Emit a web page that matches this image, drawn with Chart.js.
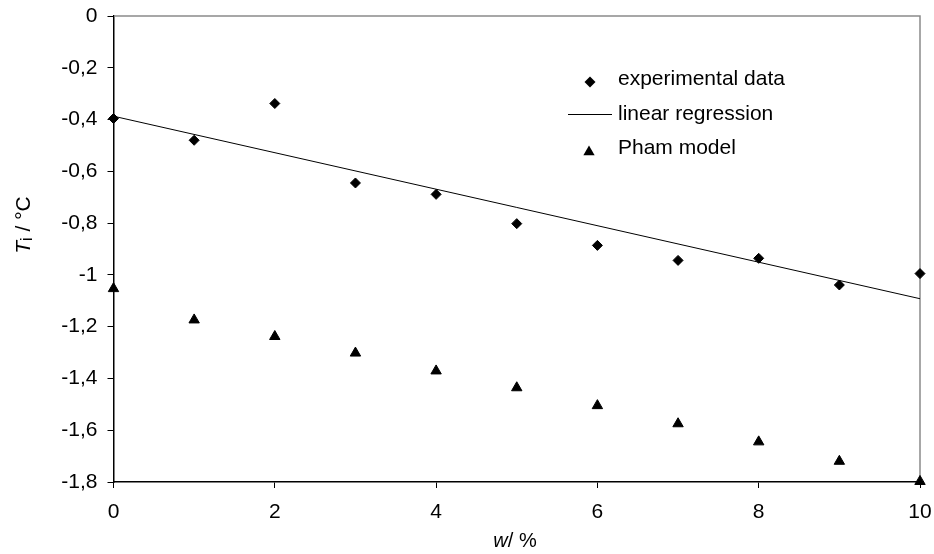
<!DOCTYPE html>
<html>
<head>
<meta charset="utf-8">
<script src="https://cdn.jsdelivr.net/npm/chart.js@4.4.0/dist/chart.umd.min.js"></script>
<style>
    html, body { margin: 0; padding: 0; background: #fff; }
    #wrap { width: 934px; height: 554px; position: relative; }
</style>
</head>
<body>
<div id="wrap"><canvas id="grafica" width="934" height="554"></canvas></div>
<script>
// ================= DATOS =================
const wValues = [0, 1, 2, 3, 4, 5, 6, 7, 8, 9, 10];
const experimentalData = [-0.396, -0.48, -0.338, -0.645, -0.689, -0.802, -0.886, -0.944, -0.936, -1.039, -0.995];
const regressionW = [0, 10];
const regressionT = [-0.387, -1.092];
const phamModel = [-1.053, -1.174, -1.238, -1.302, -1.371, -1.436, -1.505, -1.575, -1.645, -1.72, -1.798];

const xTickLabels = ["0", "2", "4", "6", "8", "10"];
const yTickLabels = ["0", "-0,2", "-0,4", "-0,6", "-0,8", "-1", "-1,2", "-1,4", "-1,6", "-1,8"];
const legendLabels = ["experimental data", "linear regression", "Pham model"];

const FAMILIA = '"Liberation Sans", Arial, sans-serif';

// ================= FUNCIONES =================

// Dibuja texto en trozos (cursiva, subíndice...) centrado o alineado a la izquierda
function dibujarTrozos(ctx, trozos, x, y, align) {
    let total = 0;
    trozos.forEach(t => { ctx.font = t.font; t.w = ctx.measureText(t.text).width; total += t.w; });
    let cx = align === 'center' ? x - total / 2 : x;
    trozos.forEach(t => {
        ctx.font = t.font;
        ctx.fillText(t.text, cx, y + (t.dy || 0));
        cx += t.w;
    });
}

function rombo(ctx, x, y, r) {
    ctx.beginPath();
    ctx.moveTo(x - r, y); ctx.lineTo(x, y - r); ctx.lineTo(x + r, y); ctx.lineTo(x, y + r);
    ctx.closePath(); ctx.fill();
}

function triangulo(ctx, x, y, r) {
    ctx.beginPath();
    ctx.moveTo(x, y - r);
    ctx.lineTo(x + r * 0.866, y + r / 2);
    ctx.lineTo(x - r * 0.866, y + r / 2);
    ctx.closePath(); ctx.fill();
}

// Marco gris, títulos de ejes y leyenda
const extrasPlugin = {
    id: 'extras',
    beforeDatasetsDraw(chart) {
        const { ctx, chartArea: a } = chart;
        ctx.save();
        ctx.strokeStyle = '#8a8a8a';
        ctx.lineWidth = 1.5;
        ctx.beginPath();
        ctx.moveTo(a.left + 1, a.top);
        ctx.lineTo(a.right, a.top);
        ctx.lineTo(a.right, a.bottom - 1);
        ctx.stroke();
        ctx.restore();
    },
    afterDraw(chart) {
        const { ctx } = chart;
        ctx.save();
        ctx.fillStyle = '#000';
        ctx.textBaseline = 'alphabetic';

        // título eje x
        dibujarTrozos(ctx, [
            { text: 'w', font: 'italic 20px ' + FAMILIA },
            { text: '/ %', font: '20px ' + FAMILIA }
        ], 515, 547, 'center');

        // título eje y
        ctx.save();
        ctx.translate(30, 225);
        ctx.rotate(-Math.PI / 2);
        dibujarTrozos(ctx, [
            { text: 'T', font: 'italic 21px ' + FAMILIA },
            { text: 'i', font: '16px ' + FAMILIA, dy: 2 },
            { text: ' / °C', font: '21px ' + FAMILIA }
        ], 0, 0, 'center');
        ctx.restore();

        // leyenda
        ctx.font = '21px ' + FAMILIA;
        rombo(ctx, 590, 82, 5.5);
        ctx.fillText(legendLabels[0], 618, 85);
        ctx.strokeStyle = '#000';
        ctx.lineWidth = 1;
        ctx.beginPath(); ctx.moveTo(568, 114.5); ctx.lineTo(612, 114.5); ctx.stroke();
        ctx.fillText(legendLabels[1], 618, 120);
        triangulo(ctx, 589, 152, 6.5);
        ctx.fillText(legendLabels[2], 618, 154);
        ctx.restore();
    }
};

// ================= GRÁFICA =================
const ctx = document.getElementById("grafica").getContext("2d");

window.miGrafica = new Chart(ctx, {
    type: 'scatter',
    data: {
        datasets: [
            {
                label: legendLabels[0],
                data: wValues.map((w, i) => ({ x: w, y: experimentalData[i] })),
                pointStyle: 'rectRot',
                pointRadius: 5,
                backgroundColor: '#000',
                borderColor: '#000',
                borderWidth: 1,
                clip: false
            },
            {
                label: legendLabels[1],
                data: regressionW.map((w, i) => ({ x: w, y: regressionT[i] })),
                showLine: true,
                borderColor: '#000',
                borderWidth: 1,
                pointRadius: 0,
                clip: false
            },
            {
                label: legendLabels[2],
                data: wValues.map((w, i) => ({ x: w, y: phamModel[i] })),
                pointStyle: 'triangle',
                pointRadius: 6,
                backgroundColor: '#000',
                borderColor: '#000',
                borderWidth: 1,
                clip: false
            }
        ]
    },
    options: {
        responsive: false,
        animation: false,
        layout: { padding: { top: 16, right: 14, left: 0, bottom: 0 } },
        plugins: {
            legend: { display: false },
            tooltip: { enabled: false }
        },
        scales: {
            x: {
                type: 'linear',
                min: 0,
                max: 10,
                // sin relleno extra por las etiquetas de los extremos
                afterFit: (scale) => { scale.height = 72; scale.paddingLeft = 0; scale.paddingRight = 0; },
                ticks: {
                    stepSize: 2,
                    padding: 12,
                    color: '#000',
                    maxRotation: 0,
                    font: { family: FAMILIA, size: 21 },
                    callback: (value) => xTickLabels[Math.round(value / 2)]
                },
                grid: { drawOnChartArea: false, drawTicks: true, tickLength: 6, color: '#000', lineWidth: 1 },
                border: { color: '#000', width: 1.5 }
            },
            y: {
                min: -1.8,
                max: 0,
                afterFit: (scale) => { scale.width = 113.5; scale.paddingTop = 0; scale.paddingBottom = 0; },
                ticks: {
                    stepSize: 0.2,
                    padding: 10,
                    color: '#000',
                    font: { family: FAMILIA, size: 21 },
                    callback: (value) => yTickLabels[Math.round(-value / 0.2)]
                },
                grid: { drawOnChartArea: false, drawTicks: true, tickLength: 6, color: '#000', lineWidth: 1 },
                border: { color: '#000', width: 1.5 }
            }
        }
    },
    plugins: [extrasPlugin]
});
</script>
</body>
</html>
